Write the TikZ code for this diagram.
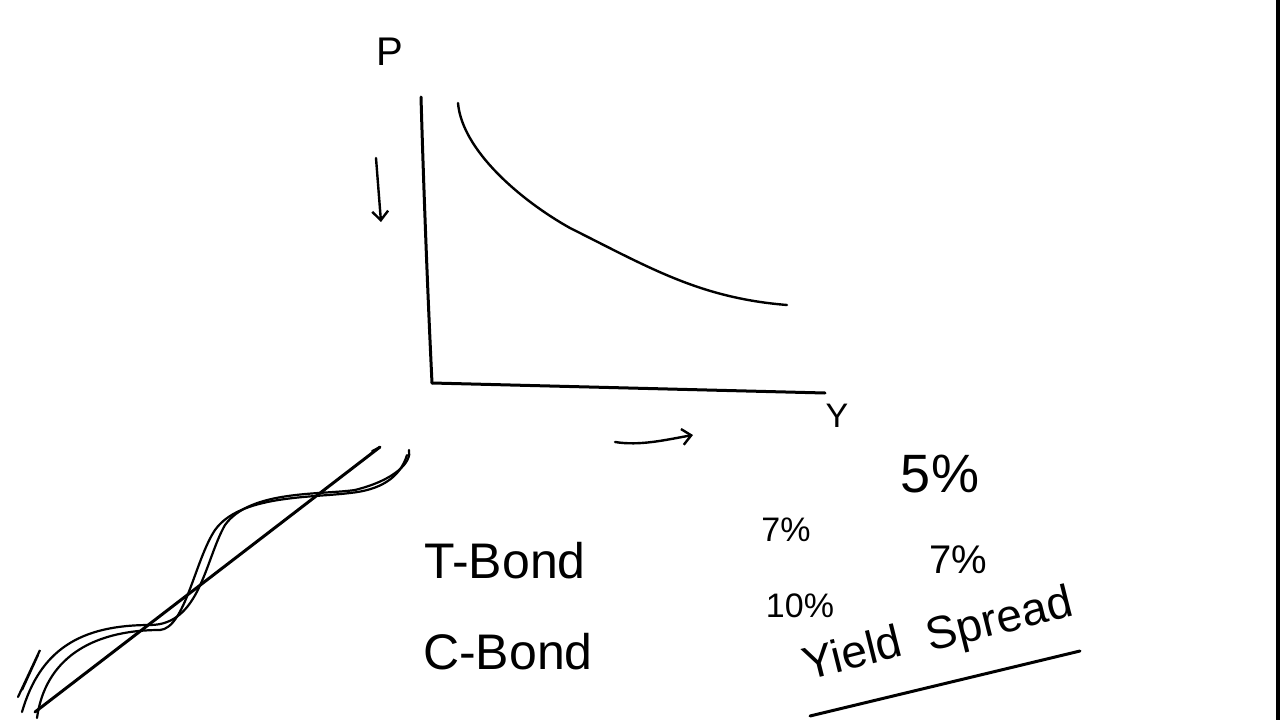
\documentclass[tikz,border=0pt]{standalone}
\usepackage{fontspec}
\setmainfont{Liberation Sans}
\usetikzlibrary{arrows.meta}
\begin{document}
\begin{tikzpicture}[x=1pt,y=-1pt,
  ink/.style={draw=black,line width=3pt,line cap=round,line join=round},
  thin ink/.style={draw=black,line width=2.2pt,line cap=round},
  hand/.style={inner sep=0pt,font=\fontsize{46}{50}\selectfont},
  handsmall/.style={inner sep=0pt,font=\fontsize{34}{38}\selectfont}]
\useasboundingbox (0,0) rectangle (1280,720);
\fill[white] (0,0) rectangle (1280,720);
\fill[black] (1276,0) rectangle (1280,720);
% labels
\node[hand,font=\fontsize{40}{44}\selectfont] (P) at (390,52) {P};
\node[handsmall] (Y) at (837,416) {Y};
% axes
\coordinate (ytop) at (421,97);
\coordinate (origin) at (432,383);
\coordinate (xend) at (825,393);
\draw[ink] (ytop) .. controls (424,200) and (428,300) .. (origin);
\draw[ink] (origin) -- (xend);
% price-yield curve
\coordinate (c0) at (458,103);
\coordinate (c1) at (787,305);
\draw[ink,line width=2.4pt] (c0) .. controls (462,150) and (520,200) .. (570,228)
  .. controls (650,268) and (700,298) .. (c1);
% arrows
\coordinate (d0) at (376,158);
\coordinate (d1) at (381,222);
\draw[ink,line width=2.4pt,-{Straight Barb[length=9pt,width=16pt]}] (d0) -- (d1);
\coordinate (s0) at (615,442);
\coordinate (s1) at (693,435);
\draw[ink,line width=2.4pt,-{Straight Barb[length=9pt,width=16pt]}] (s0) .. controls (640,446) and (665,440) .. (s1);
% double helix sketch
\coordinate (h0) at (35,712);
\coordinate (h1) at (380,447);
\draw[ink] (h0) -- (h1);
\draw[ink,line width=2pt] (h1) -- (372,451);
\draw[thin ink] (22,712) .. controls (40,650) and (80,625) .. (150,625)
  .. controls (200,625) and (205,560) .. (225,525)
  .. controls (250,490) and (320,495) .. (355,490)
  .. controls (395,480) and (412,462) .. (409,450);
\draw[thin ink] (37,718) .. controls (45,660) and (90,630) .. (160,630)
  .. controls (185,628) and (195,560) .. (215,530)
  .. controls (240,495) and (310,498) .. (350,493)
  .. controls (380,490) and (400,478) .. (407,455);
\draw[thin ink] (18,697) -- (40,650) -- (22,690) -- (38,655);
% bonds
\node[hand,font=\fontsize{50}{54}\selectfont] (tb) at (505,561) {T-Bond};
\node[hand,font=\fontsize{50}{54}\selectfont] (cb) at (508,652) {C-Bond};
% yields
\node[handsmall] (t7) at (786,530) {7\%};
\node[handsmall] (c10) at (800,606) {10\%};
\node[hand,font=\fontsize{54}{58}\selectfont] (t5) at (940,474) {5\%};
\node[handsmall,font=\fontsize{40}{44}\selectfont] (c7) at (958,560) {7\%};
\node[hand,rotate=14] (yl) at (852,652) {Yield};
\node[hand,rotate=14] (sp) at (1000,622) {Spread};
\coordinate (u0) at (810,716);
\coordinate (u1) at (1080,651);
\draw[ink] (u0) -- (u1);
\end{tikzpicture}
\end{document}
